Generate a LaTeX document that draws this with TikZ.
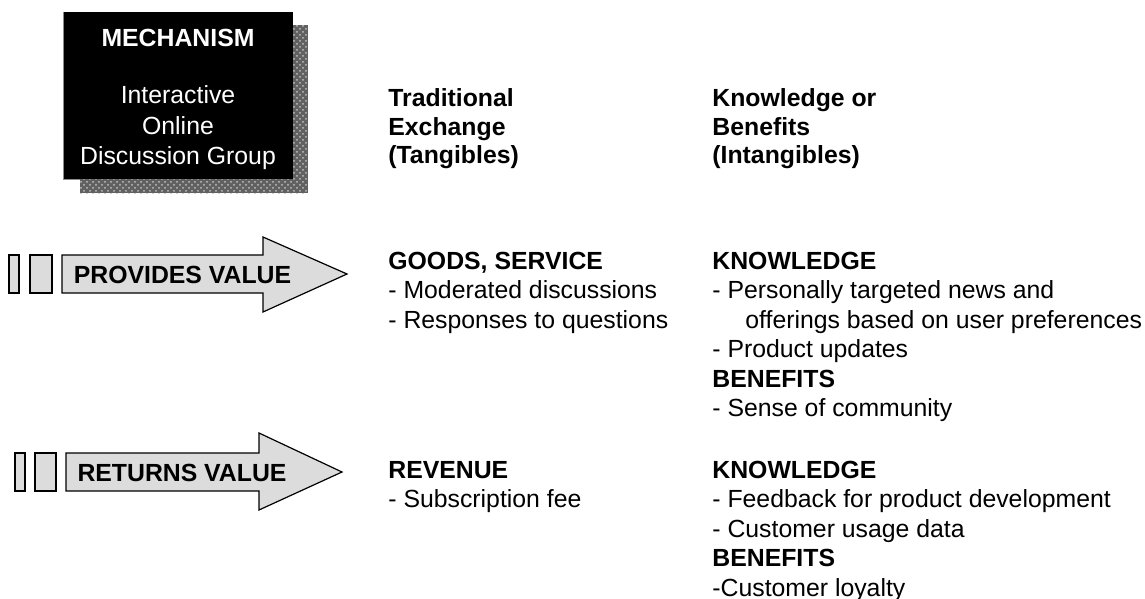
\documentclass[tikz,border=0pt]{standalone}
\usepackage{fontspec}
\setmainfont{Liberation Sans}
\usetikzlibrary{patterns}
\definecolor{arrowgray}{HTML}{DCDCDC}
\begin{document}
\begin{tikzpicture}[x=0.5pt,y=-0.5pt,
  txt/.style={anchor=base west,inner sep=0pt,font=\fontsize{12.4pt}{14.8pt}\selectfont},
  btxt/.style={txt,font=\fontsize{12.4pt}{14.8pt}\selectfont\bfseries},
  wtxt/.style={anchor=base,inner sep=0pt,text=white,font=\fontsize{12.4pt}{14.8pt}\selectfont},
  arrowshape/.style={draw=black,fill=arrowgray,line width=0.6pt,line join=miter},
  stub/.style={draw=black,fill=arrowgray,line width=0.6pt},
  lbl/.style={anchor=base,inner sep=0pt,font=\fontsize{12.4pt}{14.8pt}\selectfont\bfseries}]
\useasboundingbox (0,0) rectangle (1145,599);
\fill[white] (0,0) rectangle (1145,599);

% mechanism box with speckled shadow
\fill[black!62] (80,25) rectangle (308,193);
\fill[pattern=crosshatch dots,pattern color=white!75!black] (80,25) rectangle (308,193);
\fill[black] (63,12) rectangle (293,179);
\draw[black!45,line width=0.5pt] (63,12) -- (63,179) -- (80,179);
\node[wtxt,font=\fontsize{12.4pt}{14.8pt}\selectfont\bfseries] (mech) at (178,47) {MECHANISM};
\node[wtxt] (m1) at (178,104) {Interactive};
\node[wtxt] (m2) at (178,134) {Online};
\node[wtxt] (m3) at (178,164) {Discussion Group};

% column headers
\node[btxt] (h1a) at (388,107) {Traditional};
\node[btxt] (h1b) at (388,135) {Exchange};
\node[btxt] (h1c) at (388,163) {(Tangibles)};
\node[btxt] (h2a) at (712,107) {Knowledge or};
\node[btxt] (h2b) at (712,135) {Benefits};
\node[btxt] (h2c) at (712,163) {(Intangibles)};

% provides value arrow
\draw[stub] (9,255) rectangle (19,293);
\draw[stub] (30,255) rectangle (52,293);
\draw[arrowshape] (62,255) -- (263,255) -- (263,237) -- (347,274) -- (263,312) -- (263,293) -- (62,293) -- cycle;
\node[lbl] (pv) at (182.5,283) {PROVIDES VALUE};

% returns value arrow
\draw[stub] (15,453) rectangle (25,491);
\draw[stub] (35,453) rectangle (56,491);
\draw[arrowshape] (66,453) -- (259,453) -- (259,433) -- (342,472) -- (259,510) -- (259,491) -- (66,491) -- cycle;
\node[lbl] (rv) at (182,481) {RETURNS VALUE};

% provides: tangibles
\node[btxt] (p1) at (388,269) {GOODS, SERVICE};
\node[txt] (p2) at (388,298.5) {- Moderated discussions};
\node[txt] (p3) at (388,328) {- Responses to questions};

% provides: intangibles
\node[btxt] (q1) at (712,269) {KNOWLEDGE};
\node[txt] (q2) at (712,298.5) {- Personally targeted news and};
\node[txt] (q3) at (745,328) {offerings based on user preferences};
\node[txt] (q4) at (712,357.5) {- Product updates};
\node[btxt] (q5) at (712,387) {BENEFITS};
\node[txt] (q6) at (712,416.5) {- Sense of community};

% returns: tangibles
\node[btxt] (r1) at (388,478) {REVENUE};
\node[txt] (r2) at (388,507.5) {- Subscription fee};

% returns: intangibles
\node[btxt] (s1) at (712,478) {KNOWLEDGE};
\node[txt] (s2) at (712,507.5) {- Feedback for product development};
\node[txt] (s3) at (712,537) {- Customer usage data};
\node[btxt] (s4) at (712,566.5) {BENEFITS};
\node[txt] (s5) at (712,596) {-Customer loyalty};
\end{tikzpicture}
\end{document}
